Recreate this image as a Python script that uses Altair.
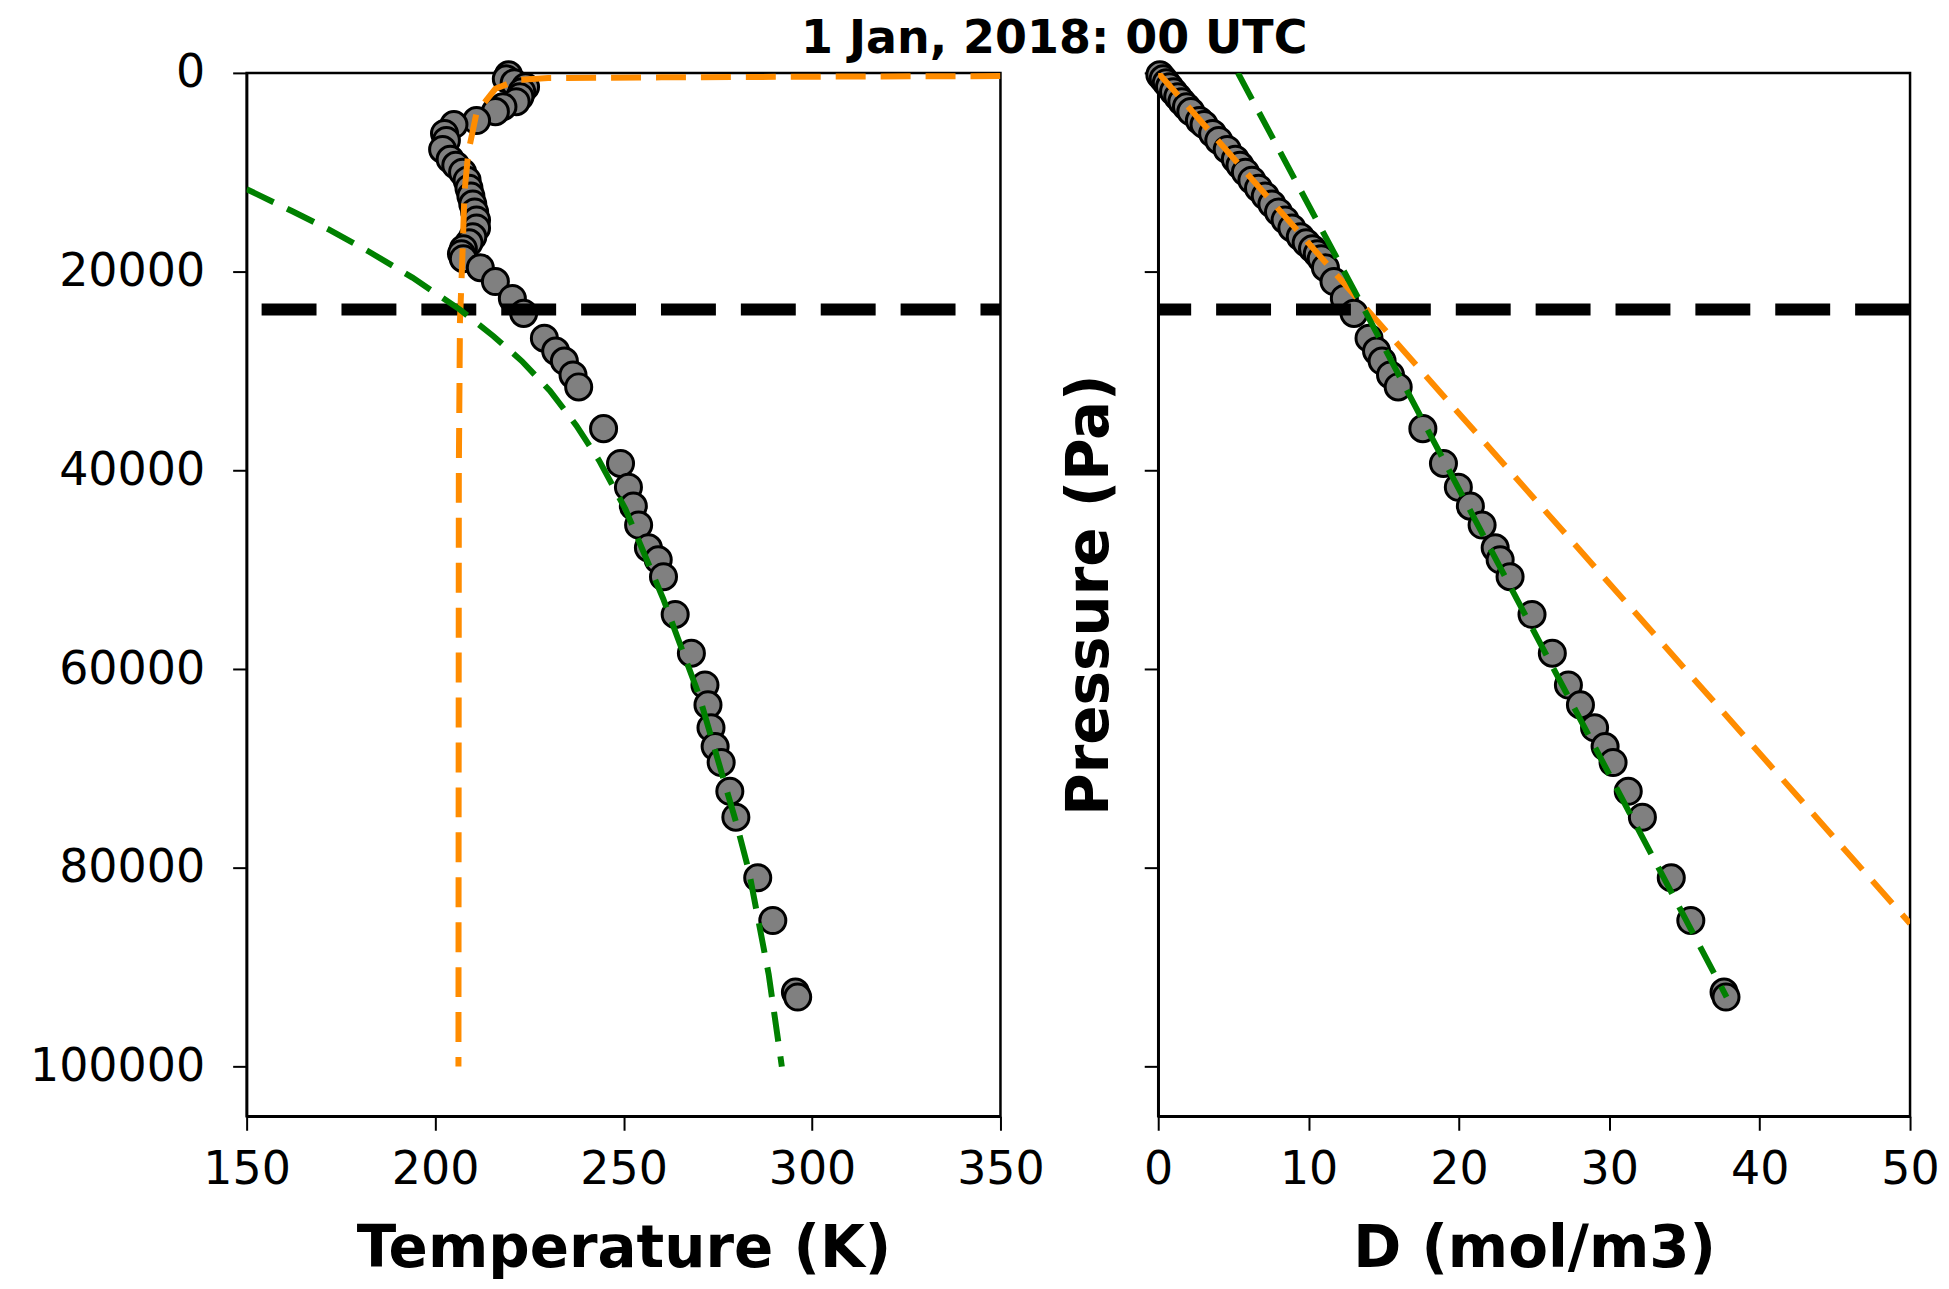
import altair as alt
import pandas as pd

TITLE = "1 Jan, 2018: 00 UTC"
X1_TITLE = "Temperature (K)"
X2_TITLE = "D (mol/m3)"
Y_TITLE = "Pressure (Pa)"

# observed sounding
pressure = [200, 600, 1000, 1400, 1900, 2400, 2900, 3400, 3900, 4800,
            5200, 6100, 6800, 7700, 8700, 9300, 10000, 10800, 11600, 12400,
            13200, 14000, 14800, 15600, 16500, 17100, 17700, 18200, 18700, 19600,
            21000, 22700, 24200, 26700, 28000, 29000, 30400, 31600, 35800, 39300,
            41700, 43600, 45500, 47800, 49000, 50700, 54500, 58400, 61600, 63600,
            65900, 67800, 69400, 72300, 74900, 81000, 85300, 92500, 93000]
temperature = [219.5, 218.9, 221.0, 224.0, 223.0, 222.5, 221.5, 218.0, 216.0, 211.0,
               205.0, 202.5, 203.0, 202.0, 204.0, 205.5, 207.3, 208.5, 209.0, 209.5,
               210.0, 210.5, 211.0, 211.0, 210.0, 209.0, 207.5, 207.0, 207.5, 212.0,
               216.0, 220.5, 223.5, 229.0, 232.0, 234.3, 236.6, 238.1, 244.7, 249.2,
               251.3, 252.6, 254.0, 256.6, 259.2, 260.6, 263.7, 268.0, 271.6, 272.4,
               273.2, 274.3, 275.9, 278.2, 279.8, 285.6, 289.6, 295.6, 296.2]
density = [0.11, 0.33, 0.54, 0.75, 1.02, 1.30, 1.57, 1.88, 2.17, 2.74,
           3.05, 3.62, 4.03, 4.59, 5.13, 5.44, 5.80, 6.23, 6.67, 7.12,
           7.56, 8.00, 8.44, 8.89, 9.45, 9.84, 10.26, 10.58, 10.84, 11.12,
           11.69, 12.38, 13.02, 14.02, 14.52, 14.89, 15.45, 15.96, 17.60, 18.97,
           19.96, 20.76, 21.54, 22.41, 22.74, 23.40, 24.86, 26.21, 27.28, 28.08,
           29.02, 29.72, 30.25, 31.26, 32.20, 34.12, 35.42, 37.63, 37.76]

# orange fit (temperature panel)
orange_T_p = [320, 380, 450, 520, 700, 1600, 4000, 8000, 12000, 19000, 25000, 40000, 100000]
orange_T = [350, 300, 260, 230, 222, 216, 211, 208.8, 207.8, 207.2, 206.6, 206.3, 206.2]
# green fit (temperature panel)
green_T_p = [11700, 13900, 15800, 18000, 20600, 23800, 26500, 29000, 32000, 35500,
             39000, 43900, 52900, 62600, 75600, 80400, 90700, 100000]
green_T = [150.0, 162.0, 172.0, 182.5, 194.0, 206.5, 215.5, 223.0, 230.5, 237.5,
           243.5, 250.5, 260.5, 270.0, 280.0, 283.3, 288.5, 292.0]
# fits (density panel)
orange_D_p = [0, 24000, 85600]
orange_D = [0.0, 14.0, 50.0]
green_D_p = [0, 21800, 93000]
green_D = [5.3, 13.0, 37.8]

tropopause = [23800]

y_ticks = [0, 20000, 40000, 60000, 80000, 100000]
t_ticks = [150, 200, 250, 300, 350]
d_ticks = [0, 10, 20, 30, 40, 50]

ORANGE = "#FF8C00"
GREEN = "#008000"
FONT = "DejaVu Sans"

obs = pd.DataFrame({"p": pressure, "T": temperature, "D": density})
oT = pd.DataFrame({"p": orange_T_p, "T": orange_T})
gT = pd.DataFrame({"p": green_T_p, "T": green_T})
oD = pd.DataFrame({"p": orange_D_p, "D": orange_D})
gD = pd.DataFrame({"p": green_D_p, "D": green_D})
trop = pd.DataFrame({"p": tropopause})

yscale = alt.Scale(domain=[0, 105000], reverse=True, nice=False)
tscale = alt.Scale(domain=[150, 350], nice=False)
dscale = alt.Scale(domain=[0, 50], nice=False)

W_L, W_R, H = 755, 753, 1045


def panel(xfield, xscale, xticks, xtitle, ylabels, ytitle, fits, dash_offset, width):
    yaxis_kwargs = dict(values=y_ticks, format="d", labels=ylabels)
    yaxis_kwargs["title"] = ytitle if ytitle else None
    pts = alt.Chart(obs).mark_point(
        shape="circle", filled=True, fill="#808080", stroke="black",
        strokeWidth=3, size=680, opacity=1
    ).encode(
        x=alt.X(f"{xfield}:Q", scale=xscale,
                axis=alt.Axis(values=xticks, title=xtitle, format="d")),
        y=alt.Y("p:Q", scale=yscale, axis=alt.Axis(**yaxis_kwargs)),
    )
    rule = alt.Chart(trop).mark_rule(
        color="black", strokeWidth=12, strokeDash=[55, 25], strokeDashOffset=dash_offset
    ).encode(y=alt.Y("p:Q", scale=yscale))
    layers = [pts, rule]
    for df, col in fits:
        layers.append(
            alt.Chart(df).mark_line(
                color=col, strokeWidth=6, strokeDash=[30, 15], clip=True
            ).encode(
                x=alt.X(f"{xfield}:Q", scale=xscale),
                y=alt.Y("p:Q", scale=yscale),
                order=alt.Order("p:Q"),
            )
        )
    return alt.layer(*layers).properties(width=width, height=H)


left = panel("T", tscale, t_ticks, X1_TITLE, True, None,
             [(oT, ORANGE), (gT, GREEN)], 35, W_L)
right = panel("D", dscale, d_ticks, X2_TITLE, False, Y_TITLE,
              [(oD, ORANGE), (gD, GREEN)], 0, W_R)

chart = alt.hconcat(left, right, spacing=13).properties(
    title=alt.TitleParams(
        TITLE, font=FONT, fontSize=46, fontWeight="bold", color="black",
        anchor="middle", dx=70, offset=-14
    ),
    padding={"left": 20, "top": 6, "right": 0, "bottom": 0},
).configure_axis(
    domainColor="black", domainWidth=2.5, tickColor="black", tickWidth=2,
    tickSize=14, labelFont=FONT, labelFontSize=46, labelColor="black",
    titleFont=FONT, titleFontSize=58, titleFontWeight="bold", titleColor="black",
    grid=False, labelFlush=False, labelOverlap=False,
).configure_axisX(
    labelPadding=17, titlePadding=28,
).configure_axisY(
    labelPadding=28, titlePadding=24,
).configure_view(
    stroke="black", strokeWidth=2.5,
)

chart.save("out.html", embed_options={"renderer": "svg", "actions": False})
